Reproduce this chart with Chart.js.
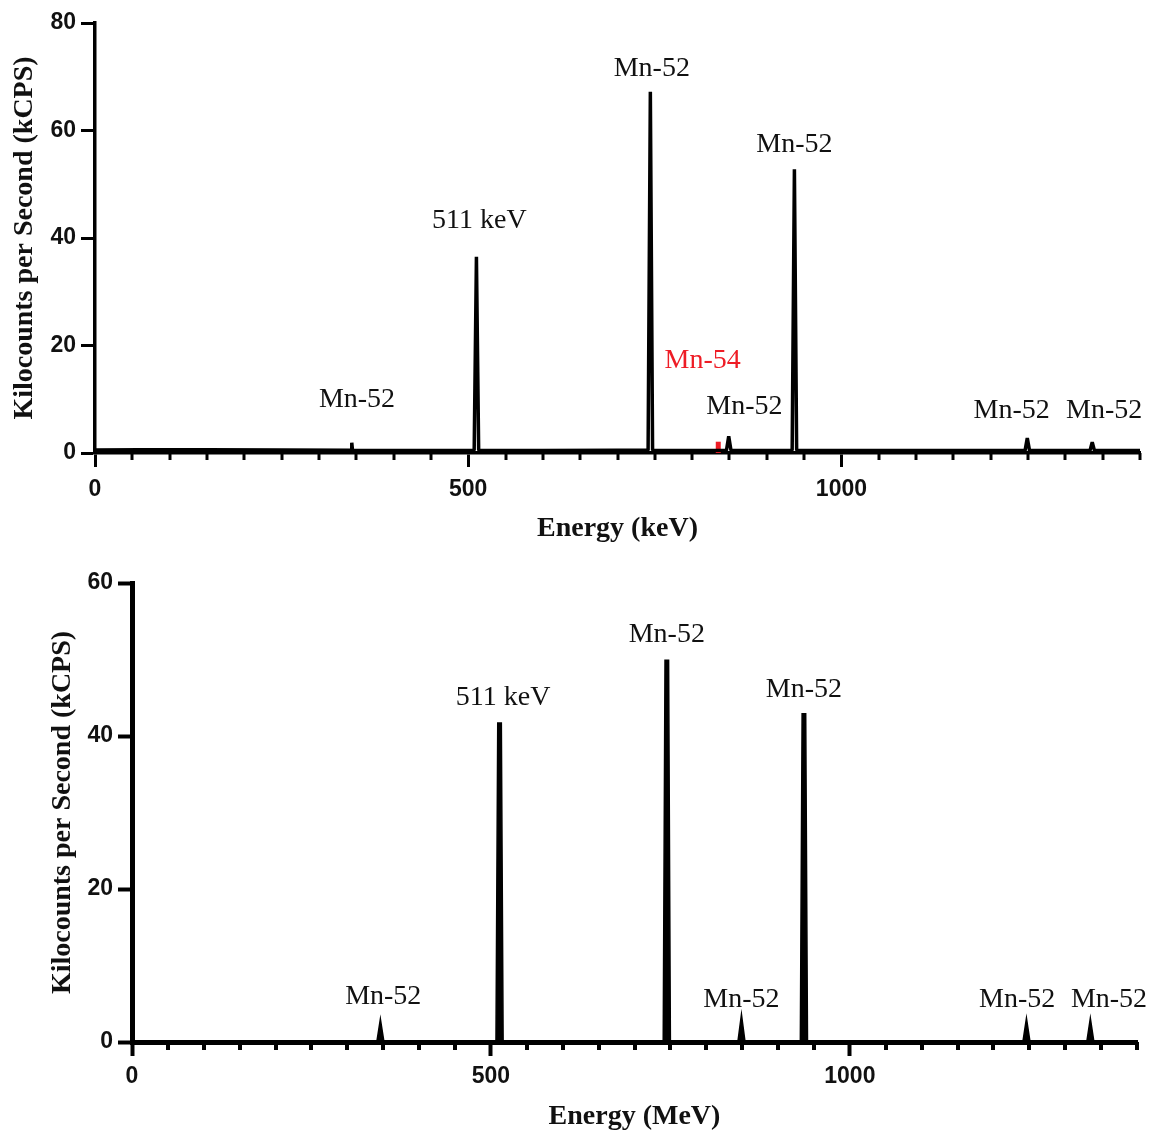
<!DOCTYPE html>
<html>
<head>
<meta charset="utf-8">
<script src="https://cdn.jsdelivr.net/npm/chart.js@4.4.1/dist/chart.umd.min.js"></script>
<style>
    body { margin: 0; background: #fff; }
    #wrap { position: relative; width: 1149px; height: 1131px; }
    canvas { position: absolute; left: 0; }
    #top-chart { top: 0; }
    #bottom-chart { top: 550px; }
</style>
</head>
<body>
<div id="wrap">
    <canvas id="top-chart" width="1149" height="550"></canvas>
    <canvas id="bottom-chart" width="1149" height="581"></canvas>
</div>
<script>
// Espectro superior (keV)
var topEnergy = [0, 60, 150, 250, 340, 343, 344, 345, 420, 500, 508, 511, 514, 600, 700, 741, 744, 747, 800, 846, 849, 852, 900, 934, 937, 940, 1000, 1100, 1246, 1249, 1252, 1333, 1336, 1339, 1400];
var topCounts = [0.55, 0.6, 0.6, 0.55, 0.5, 0.5, 1.9, 0.5, 0.45, 0.45, 0.5, 36.5, 0.5, 0.45, 0.5, 0.5, 67.2, 0.5, 0.45, 0.5, 3.1, 0.5, 0.45, 0.5, 52.8, 0.5, 0.45, 0.45, 0.45, 2.8, 0.45, 0.45, 2.0, 0.45, 0.45];
var topMn54Energy = [835, 835];
var topMn54Counts = [0, 2.1];
var topLabelText = ['Mn-52', '511 keV', 'Mn-52', 'Mn-52', 'Mn-54', 'Mn-52', 'Mn-52', 'Mn-52'];
var topLabelEnergy = [351, 515, 746, 937, 814, 870, 1228, 1352];
var topLabelLevel = [9.9, 43.3, 71.6, 57.3, 17.1, 8.7, 7.8, 7.8];
var topLabelColor = ['#111', '#111', '#111', '#111', '#ee1c25', '#111', '#111', '#111'];

// Espectro inferior (MeV)
var bottomEnergy = [0, 341, 346, 351, 507, 509.5, 514.5, 517, 740, 742.5, 747.5, 750, 844, 849, 854, 931, 933.5, 938.5, 941, 1241, 1246, 1251, 1330, 1335, 1340, 1400];
var bottomCounts = [0, 0, 3.0, 0, 0, 41.7, 41.7, 0, 0, 49.9, 49.9, 0, 0, 3.6, 0, 0, 42.9, 42.9, 0, 0, 3.1, 0, 0, 3.1, 0, 0];
var bottomLabelText = ['Mn-52', '511 keV', 'Mn-52', 'Mn-52', 'Mn-52', 'Mn-52', 'Mn-52'];
var bottomLabelEnergy = [350, 517, 745, 936, 849, 1233, 1361];
var bottomLabelLevel = [5.9, 45, 53.2, 46.1, 5.5, 5.5, 5.5];

var xTicksMajor = 500;
var xTickStep = 50;
var xMax = 1400;

function toPoints(xs, ys) {
    return xs.map(function(x, i) { return {x: x, y: ys[i]}; });
}

/**
 * Etiquetas de los picos y marcas menores del eje X
 */
var peakLabelsPlugin = {
    id: 'peakLabels',
    afterDatasetsDraw: function(chart, args, opts) {
        var ctx = chart.ctx;
        var xs = chart.scales.x;
        var ys = chart.scales.y;
        ctx.save();
        ctx.font = opts.font;
        ctx.textAlign = 'center';
        ctx.textBaseline = 'middle';
        opts.texts.forEach(function(t, i) {
            ctx.fillStyle = opts.colors ? opts.colors[i] : '#111';
            ctx.fillText(t, xs.getPixelForValue(opts.energies[i]), ys.getPixelForValue(opts.levels[i]));
        });
        // marcas menores
        ctx.strokeStyle = '#000';
        ctx.lineWidth = opts.minorWidth;
        var bottom = chart.chartArea.bottom;
        xs.ticks.forEach(function(tk) {
            if (tk.value % xTicksMajor !== 0) {
                var px = Math.round(xs.getPixelForValue(tk.value));
                ctx.beginPath();
                ctx.moveTo(px, bottom);
                ctx.lineTo(px, bottom + opts.minorLength);
                ctx.stroke();
            }
        });
        ctx.restore();
    }
};

function makeScales(cfg) {
    return {
        x: {
            type: 'linear',
            min: 0,
            max: xMax,
            afterFit: function(scale) { scale.height = cfg.xHeight; },
            ticks: {
                stepSize: xTickStep,
                autoSkip: false,
                maxRotation: 0,
                padding: cfg.xTickPad,
                color: '#111',
                font: { family: 'Liberation Sans', weight: 'bold', size: 23 },
                callback: function(v) { return v % xTicksMajor === 0 ? v : ''; }
            },
            grid: {
                drawOnChartArea: false,
                tickLength: cfg.tickLength,
                tickWidth: cfg.tickWidth,
                tickColor: function(c) {
                    return c.tick && c.tick.value % xTicksMajor === 0 ? '#000' : 'rgba(0,0,0,0)';
                }
            },
            border: { color: '#000', width: cfg.axisWidth },
            title: {
                display: true,
                text: cfg.xTitle,
                color: '#111',
                font: { family: 'Liberation Serif', weight: 'bold', size: 28 },
                padding: { top: 0, bottom: cfg.xTitlePad }
            }
        },
        y: {
            min: 0,
            max: cfg.yMax,
            afterFit: function(scale) { scale.width = cfg.yWidth; },
            ticks: {
                stepSize: 20,
                padding: 5,
                color: '#111',
                font: { family: 'Liberation Sans', weight: 'bold', size: 23 }
            },
            grid: {
                drawOnChartArea: false,
                tickLength: cfg.tickLength,
                tickWidth: cfg.tickWidth,
                tickColor: '#000'
            },
            border: { color: '#000', width: cfg.axisWidth },
            title: {
                display: true,
                text: 'Kilocounts per Second (kCPS)',
                color: '#111',
                font: { family: 'Liberation Serif', weight: 'bold', size: 28 },
                padding: { top: cfg.yTitlePad, bottom: 0 }
            }
        }
    };
}

document.addEventListener('DOMContentLoaded', function() {
    // Gráfico superior
    new Chart(document.getElementById('top-chart'), {
        type: 'line',
        data: {
            datasets: [{
                data: toPoints(topEnergy, topCounts),
                borderColor: '#000',
                borderWidth: 3.5,
                borderJoinStyle: 'bevel',
                pointRadius: 0,
                tension: 0
            }, {
                data: toPoints(topMn54Energy, topMn54Counts),
                borderColor: '#ee1c25',
                borderWidth: 5,
                borderCapStyle: 'butt',
                pointRadius: 0
            }]
        },
        options: {
            responsive: false,
            animation: false,
            layout: { padding: { top: 23, right: 7, left: 0, bottom: 0 } },
            plugins: {
                legend: { display: false },
                tooltip: { enabled: false },
                peakLabels: {
                    texts: topLabelText,
                    energies: topLabelEnergy,
                    levels: topLabelLevel,
                    colors: topLabelColor,
                    font: '28px "Liberation Serif"',
                    minorLength: 7,
                    minorWidth: 3
                }
            },
            scales: makeScales({
                xHeight: 97, yWidth: 95, yMax: 80, tickLength: 14, tickWidth: 3, xTickPad: 9,
                axisWidth: 3.5, xTitle: 'Energy (keV)', xTitlePad: 4, yTitlePad: 8
            })
        },
        plugins: [peakLabelsPlugin]
    });

    // Gráfico inferior
    new Chart(document.getElementById('bottom-chart'), {
        type: 'line',
        data: {
            datasets: [{
                data: toPoints(bottomEnergy, bottomCounts),
                borderColor: '#000',
                backgroundColor: '#000',
                borderWidth: 1.5,
                fill: 'origin',
                pointRadius: 0,
                tension: 0
            }]
        },
        options: {
            responsive: false,
            animation: false,
            layout: { padding: { top: 33, right: 12, left: 0, bottom: 0 } },
            plugins: {
                legend: { display: false },
                tooltip: { enabled: false },
                peakLabels: {
                    texts: bottomLabelText,
                    energies: bottomLabelEnergy,
                    levels: bottomLabelLevel,
                    font: '28px "Liberation Serif"',
                    minorLength: 8,
                    minorWidth: 4
                }
            },
            scales: makeScales({
                xHeight: 89, yWidth: 132, yMax: 60, tickLength: 14, tickWidth: 4, xTickPad: 7,
                axisWidth: 5, xTitle: 'Energy (MeV)', xTitlePad: -3, yTitlePad: 46
            })
        },
        plugins: [peakLabelsPlugin]
    });
});
</script>
</body>
</html>
